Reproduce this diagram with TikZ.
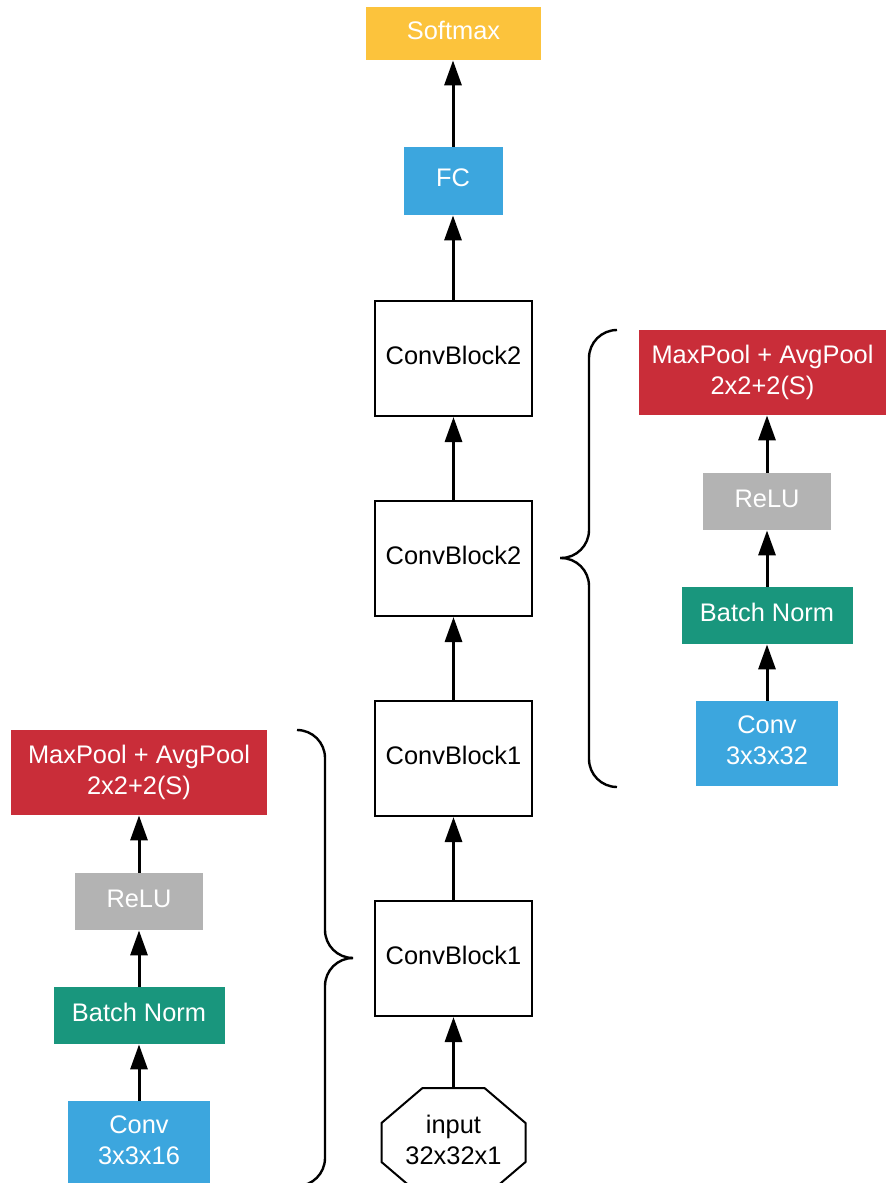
\documentclass[tikz,border=0pt]{standalone}
\usepackage{fontspec}
\setmainfont{Liberation Sans}
\usetikzlibrary{arrows.meta}

\definecolor{softyellow}{HTML}{FCC33C}
\definecolor{layerblue}{HTML}{3CA6DE}
\definecolor{poolred}{HTML}{C92D39}
\definecolor{relugray}{HTML}{B3B3B3}
\definecolor{normgreen}{HTML}{19967D}

\tikzset{
    layer/.style={rectangle, text=white, align=center, inner sep=0pt, text depth=3pt, font=\fontsize{12.7}{15.5}\selectfont},
    block/.style={rectangle, draw=black, line width=1pt, fill=white, minimum width=78.5pt, minimum height=57.5pt, text depth=3pt, font=\fontsize{12.7}{15.5}\selectfont},
    flow/.style={line width=1.5pt, -{Triangle[length=12.5pt, width=8.5pt]}},
    curly/.style={line width=1.2pt, rounded corners=14pt}
}

\begin{document}
\begin{tikzpicture}[x=0.5pt, y=-0.5pt]
            \useasboundingbox (0, 0) rectangle (886, 1183);
            % main column
            \node[layer, fill=softyellow, minimum width=87.5pt, minimum height=26.5pt] (softmax) at (453.5, 33.5) {Softmax};
            \node[layer, fill=layerblue, minimum width=49.5pt, minimum height=34pt] (fc) at (453, 181) {FC};
            \node[block] (cbtwoa) at (453.5, 358.5) {ConvBlock2};
            \node[block] (cbtwob) at (453.5, 558.5) {ConvBlock2};
            \node[block] (cbonea) at (453.5, 758.5) {ConvBlock1};
            \node[block] (cboneb) at (453.5, 958.5) {ConvBlock1};
            \node[minimum width=72pt, minimum height=54.5pt, inner sep=0pt, align=center, text depth=3pt, font=\fontsize{12.7}{15.5}\selectfont] (input) at (453.5, 1142.5) {input\\32x32x1};
            \draw[line width=1pt, shift={(input.center)}] (-31, -54.5) -- (31, -54.5) -- (72, -19.5) -- (72, 19.5) -- (31, 54.5) -- (-31, 54.5) -- (-72, 19.5) -- (-72, -19.5) -- cycle;
            \draw[flow] (input.north |- 0, 1088) -- (cboneb);
            \draw[flow] (cboneb) -- (cbonea);
            \draw[flow] (cbonea) -- (cbtwob);
            \draw[flow] (cbtwob) -- (cbtwoa);
            \draw[flow] (cbtwoa.north -| fc) -- (fc);
            \draw[flow] (fc) -- (fc |- softmax.south);
            % ConvBlock2 detail
            \node[layer, fill=poolred, minimum width=123.5pt, minimum height=42.5pt] (rpool) at (762.5, 372.5) {MaxPool + AvgPool\\2x2+2(S)};
            \node[layer, fill=relugray, minimum width=64pt, minimum height=28.5pt] (rrelu) at (767, 501.5) {ReLU};
            \node[layer, fill=normgreen, minimum width=85.5pt, minimum height=28.5pt] (rnorm) at (767, 615.5) {Batch Norm};
            \node[layer, fill=layerblue, minimum width=71pt, minimum height=42.5pt] (rconv) at (767, 743.5) {Conv\\3x3x32};
            \draw[flow] (rconv) -- (rnorm);
            \draw[flow] (rnorm) -- (rrelu);
            \draw[flow] (rrelu) -- (rrelu |- rpool.south);
            % ConvBlock1 detail
            \node[layer, fill=poolred, minimum width=128pt, minimum height=42.5pt] (lpool) at (139, 772.5) {MaxPool + AvgPool\\2x2+2(S)};
            \node[layer, fill=relugray, minimum width=64pt, minimum height=28.5pt] (lrelu) at (139, 901.5) {ReLU};
            \node[layer, fill=normgreen, minimum width=85.5pt, minimum height=28.5pt] (lnorm) at (139, 1015.5) {Batch Norm};
            \node[layer, fill=layerblue, minimum width=71pt, minimum height=42.5pt] (lconv) at (139, 1143.5) {Conv\\3x3x16};
            \draw[flow] (lconv) -- (lnorm);
            \draw[flow] (lnorm) -- (lrelu);
            \draw[flow] (lrelu) -- (lpool);
            % braces
            \draw[curly] (297, 730) -- (325, 730) -- (325, 958) -- (353, 958);
            \draw[curly] (297, 1186) -- (325, 1186) -- (325, 958) -- (353, 958);
            \draw[curly] (617, 330) -- (589, 330) -- (589, 558) -- (560, 558);
            \draw[curly] (617, 787) -- (589, 787) -- (589, 558) -- (560, 558);
        \end{tikzpicture}
\end{document}
